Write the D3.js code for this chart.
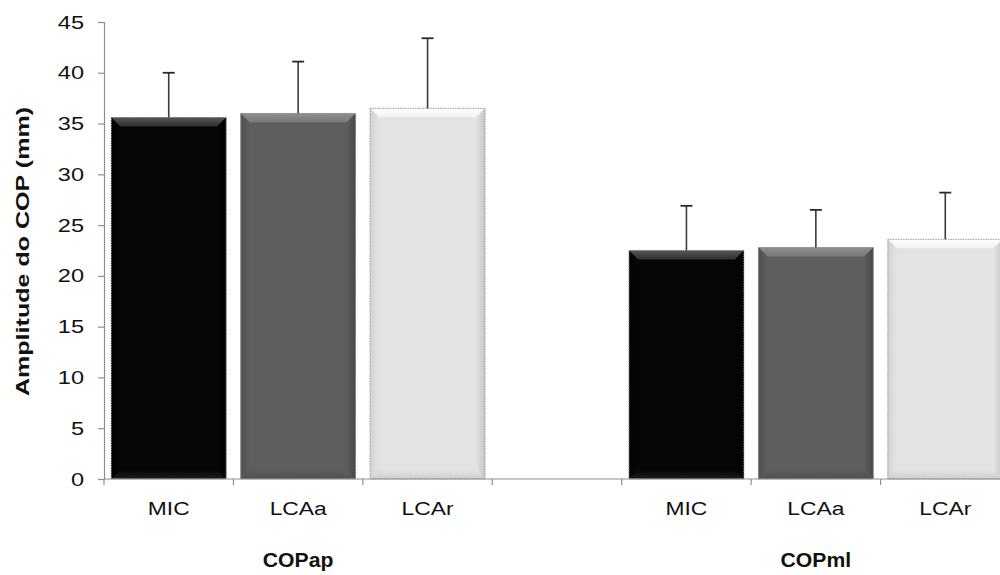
<!DOCTYPE html>
<html>
<head>
<meta charset="utf-8">
<script src="https://cdn.jsdelivr.net/npm/d3@7"></script>
<style>
  html, body { margin: 0; padding: 0; background: #fff; }
  svg { display: block; font-family: Arial, "Liberation Sans", sans-serif; }
</style>
</head>
<body>
<svg id="chart" width="1000" height="575"></svg>
<script>
// Conditions within each COP direction
const conditions = ["MIC", "LCAa", "LCAr"];
// COP directions (groups along the x axis)
const groups = ["COPap", "COPml"];
// Mean amplitude of the COP (mm)
const meanCOPap = [35.6, 36.0, 36.5];
const meanCOPml = [22.5, 22.8, 23.6];
// Standard deviation (drawn upward only)
const sdCOPap = [4.4, 5.1, 6.9];
const sdCOPml = [4.4, 3.7, 4.6];
// Y axis ticks
const yTicks = [0, 5, 10, 15, 20, 25, 30, 35, 40, 45];

// Bar appearance per condition
const fillColors = ["#060606", "#5e5e5e", "#e3e3e3"];
const topBevel = ["#555555", "#8e8e8e", "#ffffff"];
const sideBevel = ["#000000", "#474747", "#c6c6c6"];
const bottomBevel = ["#1c1c1c", "#505050", "#cdcdcd"];

const means = [meanCOPap, meanCOPml];
const sds = [sdCOPap, sdCOPml];

// Flattened slots: group 1 conditions, an empty spacer, group 2 conditions
const slots = [];
groups.forEach((g, gi) => {
  conditions.forEach((c, ci) => {
    slots.push({ key: g + "-" + c, group: g, gi, cond: c, ci, mean: means[gi][ci], sd: sds[gi][ci] });
  });
  if (gi < groups.length - 1) slots.push({ key: "gap-" + gi, spacer: true });
});

const svg = d3.select("#chart");
const plotLeft = 104, plotRight = 1010, plotTop = 22, plotBottom = 479;

const x = d3.scaleBand()
  .domain(slots.map(d => d.key))
  .range([plotLeft, plotRight])
  .paddingInner(0.112)
  .paddingOuter(0.056);

const y = d3.scaleLinear().domain([0, 45]).range([plotBottom, plotTop]);

const axisColor = "#8f8f8f";

// Gradients for the bevelled bars
const defs = svg.append("defs");
fillColors.forEach((c, i) => {
  const gt = defs.append("linearGradient").attr("id", "top" + i)
    .attr("x1", 0).attr("y1", 0).attr("x2", 0).attr("y2", 1);
  gt.append("stop").attr("offset", "0%").attr("stop-color", topBevel[i]);
  gt.append("stop").attr("offset", "100%").attr("stop-color", d3.interpolateRgb(topBevel[i], c)(0.45));
  const gl = defs.append("linearGradient").attr("id", "left" + i)
    .attr("x1", 0).attr("y1", 0).attr("x2", 1).attr("y2", 0);
  gl.append("stop").attr("offset", "0%").attr("stop-color", d3.interpolateRgb(c, sideBevel[i])(0.6));
  gl.append("stop").attr("offset", "100%").attr("stop-color", c);
  const gr = defs.append("linearGradient").attr("id", "right" + i)
    .attr("x1", 1).attr("y1", 0).attr("x2", 0).attr("y2", 0);
  gr.append("stop").attr("offset", "0%").attr("stop-color", sideBevel[i]);
  gr.append("stop").attr("offset", "100%").attr("stop-color", c);
  const gb = defs.append("linearGradient").attr("id", "bot" + i)
    .attr("x1", 0).attr("y1", 1).attr("x2", 0).attr("y2", 0);
  gb.append("stop").attr("offset", "0%").attr("stop-color", bottomBevel[i]);
  gb.append("stop").attr("offset", "100%").attr("stop-color", c);
});

// Y axis
const yAxis = svg.append("g").attr("transform", `translate(${plotLeft},0)`)
  .call(d3.axisLeft(y).tickValues(yTicks).tickSize(6).tickPadding(14).tickFormat(d3.format("d")));
yAxis.select(".domain").attr("stroke", axisColor).attr("stroke-width", 1.2);
yAxis.selectAll(".tick line").attr("stroke", axisColor).attr("stroke-width", 1.2);
yAxis.selectAll(".tick text")
  .attr("fill", "#111")
  .style("font-size", "19px")
  .each(function () {
    const t = d3.select(this);
    // widen the glyphs slightly, anchored at the right edge
    const xPos = +t.attr("x");
    t.attr("x", xPos / 1.24).attr("transform", "scale(1.24,1)");
  });

// Bars
const bars = svg.append("g");
const b = 9;
slots.filter(d => !d.spacer).forEach(d => {
  const x0 = x(d.key), w = x.bandwidth();
  const y0 = y(d.mean), y1 = y(0);
  const g = bars.append("g");
  const i = d.ci;
  g.append("rect").attr("x", x0).attr("y", y0).attr("width", w).attr("height", y1 - y0)
    .attr("fill", fillColors[i]);
  // bevel edges
  g.append("polygon").attr("points", [[x0, y0], [x0 + w, y0], [x0 + w - b, y0 + b], [x0 + b, y0 + b]].join(" "))
    .attr("fill", `url(#top${i})`);
  g.append("polygon").attr("points", [[x0, y0], [x0 + b, y0 + b], [x0 + b, y1 - b], [x0, y1]].join(" "))
    .attr("fill", `url(#left${i})`);
  g.append("polygon").attr("points", [[x0 + w, y0], [x0 + w, y1], [x0 + w - b, y1 - b], [x0 + w - b, y0 + b]].join(" "))
    .attr("fill", `url(#right${i})`);
  g.append("polygon").attr("points", [[x0, y1], [x0 + b, y1 - b], [x0 + w - b, y1 - b], [x0 + w, y1]].join(" "))
    .attr("fill", `url(#bot${i})`);
  g.append("rect").attr("x", x0).attr("y", y0).attr("width", w).attr("height", y1 - y0)
    .attr("fill", "none").attr("stroke", "#9a9a9a").attr("stroke-width", 1).attr("stroke-dasharray", "1.5,1");

  // Error bar (upper)
  const cx = x0 + w / 2;
  const ye = y(d.mean + d.sd);
  bars.append("line").attr("x1", cx).attr("x2", cx).attr("y1", y0).attr("y2", ye)
    .attr("stroke", "#3a3a3a").attr("stroke-width", 1.6);
  bars.append("line").attr("x1", cx - 6).attr("x2", cx + 6).attr("y1", ye).attr("y2", ye)
    .attr("stroke", "#2a2a2a").attr("stroke-width", 1.8);
});

// X axis with ticks between categories
const xAxis = svg.append("g");
xAxis.append("line").attr("x1", plotLeft).attr("x2", 1000).attr("y1", plotBottom).attr("y2", plotBottom)
  .attr("stroke", axisColor).attr("stroke-width", 1.2);
const halfGap = (x.step() - x.bandwidth()) / 2;
slots.forEach(d => {
  const bx = x(d.key) - halfGap;
  xAxis.append("line").attr("x1", bx).attr("x2", bx).attr("y1", plotBottom).attr("y2", plotBottom + 6)
    .attr("stroke", axisColor).attr("stroke-width", 1.2);
});

// Category labels
const catScale = 1.2;
slots.filter(d => !d.spacer).forEach(d => {
  const cx = x(d.key) + x.bandwidth() / 2;
  svg.append("text")
    .attr("x", cx / catScale).attr("y", 515)
    .attr("transform", `scale(${catScale},1)`)
    .attr("text-anchor", "middle")
    .style("font-size", "19px").attr("fill", "#111")
    .text(d.cond);
});

// Group labels centred under each trio
groups.forEach((g, gi) => {
  const mid = slots.find(d => d.gi === gi && d.ci === 1);
  const cx = x(mid.key) + x.bandwidth() / 2;
  svg.append("text")
    .attr("x", cx / 1.06).attr("y", 567)
    .attr("transform", "scale(1.06,1)")
    .attr("text-anchor", "middle")
    .style("font-size", "20px").style("font-weight", "bold").attr("fill", "#111")
    .text(g);
});

// Y axis title
svg.append("text")
  .attr("transform", `translate(29,${(plotTop + plotBottom) / 2 + 1}) rotate(-90) scale(1.32,1)`)
  .attr("text-anchor", "middle")
  .style("font-size", "19px").style("font-weight", "bold").attr("fill", "#111")
  .text("Amplitude do COP (mm)");
</script>
</body>
</html>
